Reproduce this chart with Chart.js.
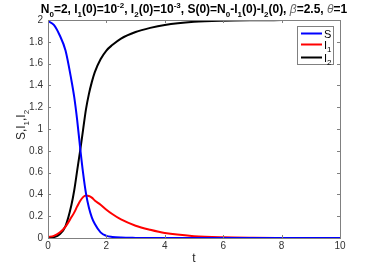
<!DOCTYPE html>
<html>
<head>
<meta charset="utf-8">
<script src="https://cdn.jsdelivr.net/npm/chart.js@4.4.0/dist/chart.umd.min.js"></script>
<style>
html, body { margin: 0; padding: 0; background: #fff; }
</style>
</head>
<body>
<canvas id="myChart" width="375" height="268"></canvas>
<script>
// values
var tValues  = [0, 0.2, 0.4, 0.6, 0.8, 0.9, 1.0, 1.1, 1.2, 1.3, 1.4, 1.5, 1.6, 1.8, 2.0, 2.2, 2.5, 3.0, 3.5, 4.0, 5, 6, 7, 8, 10];
var sValues  = [1.99, 1.955, 1.86, 1.72, 1.45, 1.29, 1.08, 0.83, 0.60, 0.41, 0.28, 0.19, 0.13, 0.052, 0.02, 0.01, 0.004, 0.001, 0, 0, 0, 0, 0, 0, 0];
var i1Values = [0.01, 0.02, 0.05, 0.105, 0.19, 0.235, 0.29, 0.34, 0.375, 0.39, 0.385, 0.37, 0.345, 0.305, 0.26, 0.22, 0.17, 0.113, 0.075, 0.045, 0.017, 0.006, 0.002, 0.0008, 0.0001];
var i2Values = [0.001, 0.008, 0.035, 0.11, 0.30, 0.44, 0.62, 0.80, 0.99, 1.18, 1.32, 1.43, 1.52, 1.64, 1.72, 1.77, 1.83, 1.89, 1.928, 1.955, 1.983, 1.994, 1.998, 1.999, 2];
var xTicks = [0, 2, 4, 6, 8, 10];
var yTicks = [0, 0.2, 0.4, 0.6, 0.8, 1, 1.2, 1.4, 1.6, 1.8, 2];

var FONT = '"Liberation Sans", Arial, Helvetica, sans-serif';

function pts(vals) {
  return tValues.map(function(t, i) { return {x: t, y: vals[i]}; });
}

// draw text made of parts: [text, kind] with kind '', 'sub', 'sup', 'greek'
function richWidth(ctx, parts, size, weight) {
  var w = 0;
  parts.forEach(function(p) {
    ctx.font = partFont(p[1], size, weight);
    w += ctx.measureText(p[0]).width;
  });
  return w;
}
function partFont(kind, size, weight) {
  if (kind === 'sub' || kind === 'sup') return weight + ' ' + Math.round(size * 0.7) + 'px ' + FONT;
  if (kind === 'greek') return 'italic ' + size + 'px ' + FONT;
  return weight + ' ' + size + 'px ' + FONT;
}
function drawRich(ctx, parts, x, y, size, weight, color) {
  var w = richWidth(ctx, parts, size, weight);
  var cx = x - w / 2;
  ctx.textBaseline = 'alphabetic';
  ctx.textAlign = 'left';
  parts.forEach(function(p) {
    ctx.font = partFont(p[1], size, weight);
    var dy = 0;
    if (p[1] === 'sub') dy = size * 0.3;
    if (p[1] === 'sup') dy = -size * 0.42;
    ctx.fillStyle = p[1] === 'greek' ? '#666' : color;
    ctx.fillText(p[0], cx, y + dy);
    cx += ctx.measureText(p[0]).width;
  });
}

var titleParts = [['N', ''], ['0', 'sub'], ['=2, I', ''], ['1', 'sub'], ['(0)=10', ''], ['-2', 'sup'],
  [', I', ''], ['2', 'sub'], ['(0)=10', ''], ['-3', 'sup'], [', S(0)=N', ''], ['0', 'sub'],
  ['-I', ''], ['1', 'sub'], ['(0)-I', ''], ['2', 'sub'], ['(0), ', ''], ['\u03b2', 'greek'],
  ['=2.5, ', ''], ['\u03b8', 'greek'], ['=1', '']];
var yLabelParts = [['S,I', ''], ['1', 'sub'], [',I', ''], ['2', 'sub']];
var legendParts = [[['S', '']], [['I', ''], ['1', 'sub']], [['I', ''], ['2', 'sub']]];

var framePlugin = {
  id: 'frame',
  afterDraw: function(chart) {
    var ctx = chart.ctx;
    var a = chart.chartArea;
    var xs = chart.scales.x, ys = chart.scales.y;
    ctx.save();
    ctx.strokeStyle = '#808080';
    ctx.lineWidth = 1;
    ctx.strokeRect(Math.round(a.left) + 0.5, Math.round(a.top) + 0.5,
      Math.round(a.right - a.left), Math.round(a.bottom - a.top));
    ctx.beginPath();
    xTicks.forEach(function(v) {
      var px = Math.round(xs.getPixelForValue(v)) + 0.5;
      ctx.moveTo(px, a.bottom); ctx.lineTo(px, a.bottom - 3);
      ctx.moveTo(px, a.top); ctx.lineTo(px, a.top + 3);
    });
    yTicks.forEach(function(v) {
      var py = Math.round(ys.getPixelForValue(v)) + 0.5;
      ctx.moveTo(a.left, py); ctx.lineTo(a.left + 3, py);
      ctx.moveTo(a.right, py); ctx.lineTo(a.right - 3, py);
    });
    ctx.stroke();

    // title
    drawRich(ctx, titleParts, (a.left + a.right) / 2, 13, 12, 'bold', '#000');

    // x label
    ctx.font = '12px ' + FONT;
    ctx.fillStyle = '#262626';
    ctx.textAlign = 'center';
    ctx.textBaseline = 'alphabetic';
    ctx.fillText('t', (a.left + a.right) / 2, 262);

    // y label
    ctx.save();
    ctx.translate(25, (a.top + a.bottom) / 2 - 4);
    ctx.rotate(-Math.PI / 2);
    drawRich(ctx, yLabelParts, 0, 0, 12, 'normal', '#262626');
    ctx.restore();

    // legend
    var lx = 297, ly = 26, lw = 36, lh = 38;
    ctx.fillStyle = '#fff';
    ctx.fillRect(lx, ly, lw, lh);
    ctx.strokeStyle = '#808080';
    ctx.strokeRect(lx + 0.5, ly + 0.5, lw, lh);
    var rows = [33.5, 44.5, 57.5];
    chart.data.datasets.forEach(function(ds, i) {
      ctx.strokeStyle = ds.borderColor;
      ctx.lineWidth = 2;
      ctx.beginPath();
      ctx.moveTo(lx + 4, rows[i]); ctx.lineTo(lx + 25, rows[i]);
      ctx.stroke();
      var parts = legendParts[i];
      var w = richWidth(ctx, parts, 11, 'normal');
      drawRich(ctx, parts, lx + 27 + w / 2, rows[i] + 4, 11, 'normal', '#000');
    });
    ctx.restore();
  }
};

var chart = new Chart(document.getElementById('myChart'), {
  type: 'line',
  data: {
    datasets: [
      {label: 'S', data: pts(sValues), borderColor: '#0000ff'},
      {label: 'I1', data: pts(i1Values), borderColor: '#ff0000'},
      {label: 'I2', data: pts(i2Values), borderColor: '#000000'}
    ]
  },
  options: {
    responsive: false,
    animation: false,
    devicePixelRatio: 1,
    layout: {padding: {left: 0, top: 20, right: 35, bottom: 0}},
    elements: {
      line: {borderWidth: 2, fill: false, cubicInterpolationMode: 'monotone'},
      point: {radius: 0}
    },
    plugins: {legend: {display: false}, title: {display: false}, tooltip: {enabled: false}},
    scales: {
      x: {
        type: 'linear', min: 0, max: 10,
        afterBuildTicks: function(s) { s.ticks = xTicks.map(function(v) { return {value: v}; }); },
        afterFit: function(s) { s.height = 30; },
        grid: {display: false, drawTicks: false},
        border: {display: false},
        ticks: {padding: 2, color: '#333', font: {family: FONT, size: 10}, maxRotation: 0}
      },
      y: {
        type: 'linear', min: 0, max: 2,
        afterBuildTicks: function(s) { s.ticks = yTicks.map(function(v) { return {value: v}; }); },
        afterFit: function(s) { s.width = 48; },
        grid: {display: false, drawTicks: false},
        border: {display: false},
        ticks: {padding: 5, color: '#333', font: {family: FONT, size: 10},
          callback: function(v) { return String(+v.toFixed(1)); }}
      }
    }
  },
  plugins: [framePlugin]
});
</script>
</body>
</html>
